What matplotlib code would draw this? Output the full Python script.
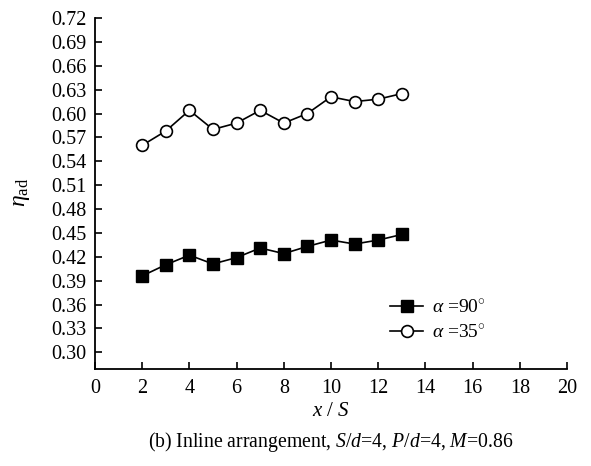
import matplotlib
matplotlib.use("Agg")
import matplotlib.pyplot as plt

plt.rcParams['font.family'] = ['Liberation Serif', 'DejaVu Serif']
plt.rcParams['mathtext.fontset'] = 'custom'
plt.rcParams['mathtext.rm'] = 'Liberation Serif'
plt.rcParams['mathtext.it'] = 'Liberation Serif:italic'
plt.rcParams['mathtext.bf'] = 'Liberation Serif:bold'

x_vals = [2, 3, 4, 5, 6, 7, 8, 9, 10, 11, 12, 13]
eta_90 = [0.396, 0.410, 0.422, 0.411, 0.419, 0.431, 0.424, 0.433, 0.441, 0.436, 0.441, 0.448]
eta_35 = [0.560, 0.578, 0.604, 0.580, 0.588, 0.604, 0.588, 0.600, 0.621, 0.615, 0.618, 0.625]
label_90 = r'$\alpha$ =90$^{\circ}$'
label_35 = r'$\alpha$ =35$^{\circ}$'
yticks = [0.30, 0.33, 0.36, 0.39, 0.42, 0.45, 0.48, 0.51, 0.54, 0.57, 0.60, 0.63, 0.66, 0.69, 0.72]
xticks = [0, 2, 4, 6, 8, 10, 12, 14, 16, 18, 20]

fig = plt.figure(figsize=(5.91, 4.66), dpi=100)
ax = fig.add_axes([95/591, 1-369/466, 472/591, 351/466])

ax.plot(x_vals, eta_90, color='black', lw=1.2, marker='s', markersize=8,
        markerfacecolor='black', markeredgecolor='black', label=label_90)
ax.plot(x_vals, eta_35, color='black', lw=1.2, marker='o', markersize=8.5,
        markerfacecolor='white', markeredgecolor='black', markeredgewidth=1.2, label=label_35)

ax.set_xlim(0, 20)
ax.set_ylim(0.279, 0.72)
ax.set_xticks(xticks)
ax.set_yticks(yticks)
ax.set_yticklabels([f'{v:.2f}' for v in yticks])
ax.tick_params(direction='in', length=5, width=1.2, labelsize=14.5, colors='black')
ax.tick_params(axis='x', pad=7)
ax.tick_params(axis='y', pad=6)
for s in ['top', 'right']:
    ax.spines[s].set_visible(False)
for s in ['left', 'bottom']:
    ax.spines[s].set_linewidth(1.3)

leg = ax.legend(loc='upper left', bbox_to_anchor=(0.625, 0.198), frameon=False,
                fontsize=14, handlelength=1.7, handletextpad=0.45, labelspacing=0.35,
                borderaxespad=0, borderpad=0)

fig.text(22/591, 1-192/466, r'$\eta_{\rm ad}$', fontsize=17, rotation=90,
         ha='center', va='center')
fig.text(331/591, 1-412/466, r'$x$ / $S$', fontsize=15, ha='center', va='center')
fig.text(331/591, 1-442/466, r'(b) Inline arrangement, $S$/$d$=4, $P$/$d$=4, $M$=0.86',
         fontsize=14.2, ha='center', va='center')

fig.savefig('out.png', dpi=100)
